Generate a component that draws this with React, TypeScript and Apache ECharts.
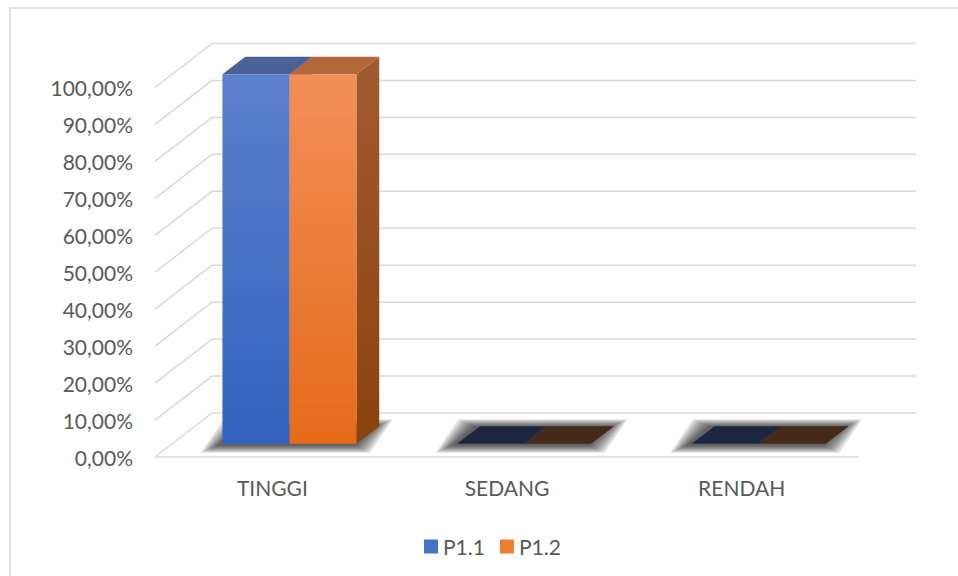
import React, { useEffect, useRef } from "react";
import * as echarts from "echarts";

const categories = ["TINGGI", "SEDANG", "RENDAH"];
const seriesNames = ["P1.1", "P1.2"];
const p11Values = [100, 0, 0];
const p12Values = [100, 0, 0];
const yTicks = [0, 10, 20, 30, 40, 50, 60, 70, 80, 90, 100];

const DX = 57;
const DY = -44;
const F0 = 0.3;
const F1 = 0.7;
const BAR_FRAC = 0.2855;
const FONT = "Lato, 'Noto Sans', sans-serif";
const TEXT = "#595959";
const GRID = "#d9d9d9";

const palettes = [
  {
    legend: "#4472c4",
    frontTop: "#5b80cd",
    frontBottom: "#3163bf",
    side: ["#3f5f9f", "#2a4a8a"],
    top: "#4a6197",
    flat: "#1c2640",
  },
  {
    legend: "#ed7d31",
    frontTop: "#f28f58",
    frontBottom: "#e56b1a",
    side: ["#a15b31", "#8a430d"],
    top: "#b4673b",
    flat: "#452918",
  },
];

function makeBarRender(sidx: number) {
  const pal = palettes[sidx];
  return (params: any, api: any) => {
    const cat = api.value(0);
    const v = api.value(1);
    const base = api.coord([cat, 0]);
    const topP = api.coord([cat, v]);
    const band = api.size([1, 0])[0];
    const w = band * BAR_FRAC;
    const cx = base[0];
    const xl = sidx === 0 ? cx - w : cx;
    const xr = xl + w;
    const y0 = base[1];
    const yt = topP[1];
    const ax = DX * F0, ay = DY * F0, bx = DX * F1, by = DY * F1;
    const children: any[] = [];
    if (v > 0) {
      children.push({
        type: "polygon",
        shape: { points: [[xr + ax, yt + ay], [xr + bx, yt + by], [xr + bx, y0 + by], [xr + ax, y0 + ay]] },
        style: { fill: new echarts.graphic.LinearGradient(0, 0, 0, 1, [{ offset: 0, color: pal.side[0] }, { offset: 1, color: pal.side[1] }]) },
      });
      children.push({
        type: "polygon",
        shape: { points: [[xl + ax, yt + ay], [xr + ax, yt + ay], [xr + bx, yt + by], [xl + bx, yt + by]] },
        style: { fill: pal.top },
      });
      children.push({
        type: "rect",
        shape: { x: xl + ax, y: yt + ay, width: w, height: y0 - yt },
        style: { fill: new echarts.graphic.LinearGradient(0, 0, 0, 1, [{ offset: 0, color: pal.frontTop }, { offset: 1, color: pal.frontBottom }]) },
      });
    } else {
      children.push({
        type: "polygon",
        shape: { points: [[xl + ax, y0 + ay], [xr + ax, y0 + ay], [xr + bx, y0 + by], [xl + bx, y0 + by]] },
        style: { fill: pal.flat },
      });
    }
    return { type: "group", children };
  };
}

function shadowRender(params: any, api: any) {
  const cat = api.value(0);
  const base = api.coord([cat, 0]);
  const band = api.size([1, 0])[0];
  const w = band * BAR_FRAC;
  const ax = DX * F0, ay = DY * F0, bx = DX * F1, by = DY * F1;
  const xl = base[0] - w - 4;
  const xr = base[0] + w - 4;
  const y0 = base[1] + 1;
  const children: any[] = [];
  const steps = 8;
  for (let k = steps; k >= 1; k--) {
    const e = k * 2.2;
    children.push({
      type: "polygon",
      shape: {
        points: [
          [xl + ax - e, y0 + ay + e * 0.45],
          [xr + ax + e, y0 + ay + e * 0.45],
          [xr + bx + e, y0 + by - e * 0.45],
          [xl + bx - e, y0 + by - e * 0.45],
        ],
      },
      style: { fill: "rgba(0,0,0,0.11)" },
    });
  }
  return { type: "group", children };
}

function gridRender(params: any, api: any) {
  const t = api.value(1);
  const cs = params.coordSys;
  const y = api.coord([0, t])[1];
  const x0 = cs.x;
  const x1 = cs.x + cs.width;
  const style = { stroke: GRID, lineWidth: 1.5, fill: "none" };
  const children: any[] = [
    { type: "line", shape: { x1: x0, y1: y, x2: x0 + DX, y2: y + DY }, style },
    { type: "line", shape: { x1: x0 + DX, y1: y + DY, x2: x1 + DX, y2: y + DY }, style },
  ];
  if (t === 0) {
    children.push({ type: "line", shape: { x1: x0, y1: y, x2: x1, y2: y }, style });
  }
  return { type: "group", children };
}

export default function App() {
  const ref = useRef<HTMLDivElement>(null);
  useEffect(() => {
    if (!ref.current) return;
    const chart = echarts.init(ref.current, undefined, { renderer: "svg" });
    const valueSets = [p11Values, p12Values];
    chart.setOption({
      animation: false,
      backgroundColor: "#ffffff",
      graphic: [
        {
          type: "rect",
          shape: { x: 10, y: 8, width: 1200, height: 1200 },
          style: { fill: "none", stroke: GRID, lineWidth: 1.5 },
          silent: true,
        },
      ],
      grid: { left: 155, right: 99, top: 87.5, bottom: 119, containLabel: false },
      legend: {
        data: seriesNames,
        left: 419,
        top: 531,
        icon: "rect",
        itemWidth: 14,
        itemHeight: 14,
        itemGap: 15,
        textStyle: { fontSize: 21, color: TEXT, fontFamily: FONT },
      },
      xAxis: {
        type: "category",
        data: categories,
        axisLine: { show: false },
        axisTick: { show: false },
        splitLine: { show: false },
        axisLabel: { margin: 20, fontSize: 21, color: TEXT, fontFamily: FONT },
      },
      yAxis: {
        type: "value",
        min: 0,
        max: 100,
        interval: 10,
        axisLine: { show: false },
        axisTick: { show: false },
        splitLine: { show: false },
        axisLabel: {
          margin: 22,
          fontSize: 21,
          color: TEXT,
          fontFamily: FONT,
          formatter: (v: number) => v.toFixed(2).replace(".", ",") + "%",
        },
      },
      series: [
        {
          type: "custom",
          name: "grid3d",
          z: 1,
          silent: true,
          renderItem: gridRender,
          data: yTicks.map((t) => [0, t]),
        },
        {
          type: "custom",
          name: "shadow",
          z: 2,
          silent: true,
          renderItem: shadowRender,
          data: categories.map((c, i) => [i, 0]),
        },
        ...seriesNames.map((name, sidx) => ({
          type: "custom",
          name,
          z: 3 + sidx,
          itemStyle: { color: palettes[sidx].legend },
          renderItem: makeBarRender(sidx),
          data: valueSets[sidx].map((v, i) => [i, v]),
        })),
      ],
    });
    return () => chart.dispose();
  }, []);
  return (
    <div
      ref={ref}
      style={{ position: "fixed", left: 0, top: 0, width: 958, height: 576 }}
    />
  );
}
